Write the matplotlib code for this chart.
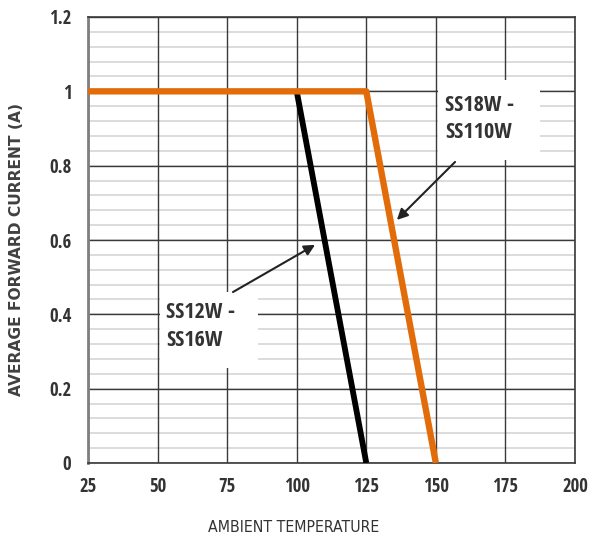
import matplotlib
matplotlib.use("Agg")
import matplotlib.pyplot as plt
from matplotlib.font_manager import FontProperties
from matplotlib.patches import Rectangle
import numpy as np

# ---- data ----
black_x = [100, 125]
black_y = [1.0, 0.0]
orange_x = [25, 125, 150]
orange_y = [1.0, 1.0, 0.0]
x_ticks = [25, 50, 75, 100, 125, 150, 175, 200]
y_ticks = [0, 0.2, 0.4, 0.6, 0.8, 1.0, 1.2]
y_tick_labels = ["0", "0.2", "0.4", "0.6", "0.8", "1", "1.2"]
label1 = ["SS12W -", "SS16W"]
label2 = ["SS18W -", "SS110W"]

tick_font = FontProperties(family="Open Sans Condensed", weight="bold", size=13.5)
ann_font = FontProperties(family="Open Sans Condensed", weight="bold", size=16)
cond_reg = FontProperties(family="DejaVu Sans", stretch="condensed", weight="normal", size=11.3)
ylab_font = FontProperties(family="DejaVu Sans", weight="bold", size=11.2)

fig = plt.figure(figsize=(5.89, 5.41), dpi=100)
ax = fig.add_axes([88/589, 78/541, 487/589, 446/541])
ax.set_xlim(25, 200)
ax.set_ylim(0, 1.2)

# minor grid
for yv in np.arange(0, 1.2001, 0.04):
    ax.axhline(yv, color="#d9d9d9", lw=1.3, zorder=1)
for yv in y_ticks:
    ax.axhline(yv, color="#3a3a3a", lw=1.0, zorder=1.5)
for xv in x_ticks:
    ax.axvline(xv, color="#3a3a3a", lw=1.0, zorder=1.5)

# white boxes
ax.add_patch(Rectangle((51.0, 0.256), 35.0, 0.204, facecolor="white", edgecolor="none", zorder=2))
ax.add_patch(Rectangle((150.8, 0.815), 36.6, 0.215, facecolor="white", edgecolor="none", zorder=2))

ax.plot(black_x, black_y, color="black", lw=4.2, zorder=4, solid_capstyle="butt")
ax.plot(orange_x, orange_y, color="#E36C0A", lw=4.6, zorder=5, solid_capstyle="butt")

for (x, y, s) in [(53.0, 0.404, label1[0]), (53.0, 0.329, label1[1]),
                  (153.3, 0.963, label2[0]), (153.3, 0.888, label2[1])]:
    ax.text(x, y, s, va="center", ha="left", zorder=6, color="#333333", fontproperties=ann_font)

arrow = dict(arrowstyle="-|>", color="#222222", lw=1.5, mutation_scale=16, shrinkA=0, shrinkB=0)
ax.annotate("", xy=(106.6, 0.587), xytext=(77.1, 0.46), arrowprops=arrow, zorder=6)
ax.annotate("", xy=(136.0, 0.654), xytext=(156.9, 0.81), arrowprops=arrow, zorder=6)

ax.set_xticks(x_ticks)
ax.set_xticklabels([str(v) for v in x_ticks])
ax.set_yticks(y_ticks)
ax.set_yticklabels(y_tick_labels)
ax.tick_params(length=0)
ax.tick_params(axis="y", pad=12)
ax.tick_params(axis="x", pad=10)
for lab in ax.get_xticklabels() + ax.get_yticklabels():
    lab.set_fontproperties(tick_font)
    lab.set_color("#333333")

for s in ["top", "right", "bottom"]:
    ax.spines[s].set_color("#3a3a3a")
    ax.spines[s].set_linewidth(1.2)
ax.spines["left"].set_color("#7f7f7f")
ax.spines["left"].set_linewidth(2)

fig.text(294/589, 1 - 528/541, "AMBIENT TEMPERATURE", ha="center", va="center",
         color="#333333", fontproperties=cond_reg)
fig.text(17/589, 1 - 249/541, "AVERAGE FORWARD CURRENT (A)", ha="center", va="center",
         rotation=90, color="#404040", fontproperties=ylab_font)
fig.savefig("out.png", dpi=100, facecolor="white")
